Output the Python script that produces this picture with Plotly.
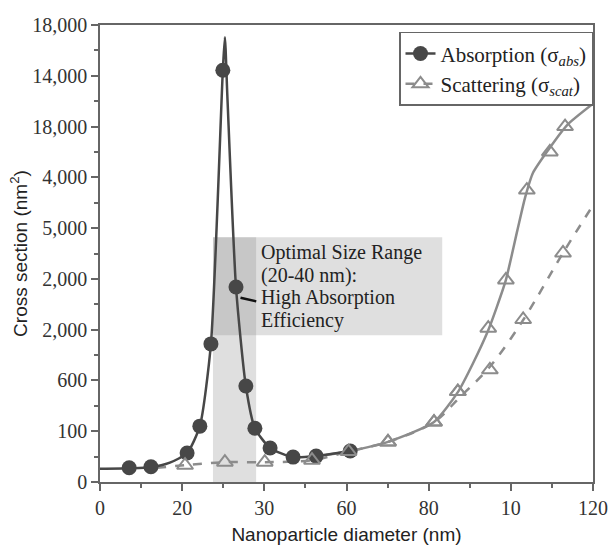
import plotly.graph_objects as go

# ---- data (x in nm, y in evenly spaced tick-position units of the axis) ----
y_tick_pos = [0, 1, 2, 3, 4, 5, 6, 7, 8, 9]
y_tick_labels = ["0", "100", "600", "2,000", "2,000", "5,000", "4,000", "18,000", "14,000", "18,000"]
x_tick_pos = [0, 20, 40, 60, 80, 100, 120]
x_tick_labels = ["0", "20", "30", "60", "80", "10", "120"]

abs_x = [7.1, 12.4, 21.2, 24.3, 27.0, 29.9, 33.1, 35.5, 37.7, 41.4, 47.0, 52.6, 60.9]
abs_y = [0.28, 0.30, 0.57, 1.10, 2.72, 8.11, 3.84, 1.89, 1.06, 0.67, 0.49, 0.51, 0.61]
abs_curve_x = [0, 7.1, 12.4, 17.0, 21.2, 24.3, 27.0, 29.9, 30.4, 31.0, 33.1, 35.5, 37.7, 41.4, 47.0, 52.6, 60.9]
abs_curve_y = [0.26, 0.27, 0.29, 0.38, 0.57, 1.10, 2.72, 8.11, 8.76, 7.60, 3.84, 1.89, 1.06, 0.67, 0.49, 0.51, 0.61]

scat_x = [20.7, 30.4, 40.1, 51.6, 60.5, 70.1, 81.3, 87.1, 94.9, 103.0, 112.7]
scat_y = [0.33, 0.39, 0.39, 0.43, 0.60, 0.79, 1.18, 1.78, 2.21, 3.20, 4.51]
scat_curve_x = [13.9, 20.7, 30.4, 40.1, 51.6, 60.5, 70.1, 81.3, 87.6, 94.9, 103.0, 112.7, 120.0]
scat_curve_y = [0.28, 0.33, 0.39, 0.39, 0.43, 0.60, 0.79, 1.18, 1.67, 2.27, 3.19, 4.51, 5.45]

scat2_x = [70.1, 81.3, 87.1, 94.5, 98.8, 103.9, 109.5, 113.2]
scat2_y = [0.79, 1.18, 1.78, 3.03, 3.98, 5.75, 6.50, 7.00]
scat2_curve_x = [55.0, 60.9, 70.1, 81.3, 87.1, 90.8, 94.5, 96.6, 98.8, 101.6, 103.5, 105.4, 109.1, 113.7, 120.0]
scat2_curve_y = [0.53, 0.61, 0.79, 1.18, 1.77, 2.34, 2.99, 3.45, 3.98, 4.96, 5.61, 6.09, 6.54, 7.03, 7.45]

band_x = [27.5, 38.0]
box_x = [27.5, 83.3]
box_y = [2.89, 4.82]
note_lines = ["Optimal Size Range", "(20-40 nm):", "High Absorption", "Efficiency"]
note_y = [4.51, 4.07, 3.63, 3.19]

DARK = "#474747"
GRAY = "#8c8c8c"
SERIF = "Liberation Serif, Times New Roman, serif"
SANS = "Liberation Sans, Arial, sans-serif"

fig = go.Figure()

# gray solid scattering branch (no legend)
fig.add_trace(go.Scatter(x=scat2_curve_x, y=scat2_curve_y, mode="lines",
                         line=dict(color=GRAY, width=2.5, shape="spline", smoothing=0.6),
                         showlegend=False, hoverinfo="skip"))
fig.add_trace(go.Scatter(x=scat2_x, y=scat2_y, mode="markers",
                         marker=dict(symbol="triangle-up-open", size=14, color=GRAY, line=dict(width=2)),
                         showlegend=False))
# dashed scattering
fig.add_trace(go.Scatter(x=scat_curve_x, y=scat_curve_y, mode="lines",
                         line=dict(color=GRAY, width=2.5, dash="dash", shape="spline", smoothing=0.9),
                         showlegend=False, hoverinfo="skip"))
# absorption
fig.add_trace(go.Scatter(x=abs_curve_x, y=abs_curve_y, mode="lines",
                         line=dict(color=DARK, width=2.5, shape="spline", smoothing=0.6),
                         showlegend=False, hoverinfo="skip"))
fig.add_trace(go.Scatter(x=abs_x, y=abs_y, mode="markers",
                         marker=dict(symbol="circle", size=15, color=DARK),
                         showlegend=False))
fig.add_trace(go.Scatter(x=scat_x, y=scat_y, mode="markers",
                         marker=dict(symbol="triangle-up-open", size=14, color=GRAY, line=dict(width=2)),
                         showlegend=False))
# legend entries
fig.add_trace(go.Scatter(x=[None], y=[None], mode="lines+markers",
                         name="Absorption (σ<sub><i>abs</i></sub>)",
                         line=dict(color=DARK, width=2.5),
                         marker=dict(symbol="circle", size=15, color=DARK)))
fig.add_trace(go.Scatter(x=[None], y=[None], mode="lines+markers",
                         name="Scattering (σ<sub><i>scat</i></sub>)",
                         line=dict(color=GRAY, width=2.5, dash="dash"),
                         marker=dict(symbol="triangle-up-open", size=14, color=GRAY, line=dict(width=2))))

# shaded band and note box
fig.add_shape(type="rect", xref="x", yref="y", x0=band_x[0], x1=band_x[1], y0=0, y1=box_y[1],
              fillcolor="rgba(128,128,128,0.25)", line=dict(width=0), layer="below")
fig.add_shape(type="rect", xref="x", yref="y", x0=box_x[0], x1=box_x[1], y0=box_y[0], y1=box_y[1],
              fillcolor="rgba(128,128,128,0.25)", line=dict(width=0), layer="below")

for txt, yy in zip(note_lines, note_y):
    fig.add_annotation(x=38.6, y=yy, xref="x", yref="y", text=txt, showarrow=False,
                       xanchor="left", yanchor="middle", font=dict(family=SERIF, size=20, color="#222"))
# pointer
fig.add_annotation(x=34.2, y=3.63, xref="x", yref="y", ax=38.4, ay=3.55, axref="x", ayref="y",
                   text="", showarrow=True, arrowhead=0, arrowwidth=2.5, arrowcolor="#111")

axis_common = dict(showline=True, linecolor="#666", linewidth=1.6, mirror=True,
                   ticks="outside", ticklen=7, tickwidth=1.5, tickcolor="#666",
                   showgrid=False, zeroline=False, automargin=False,
                   tickfont=dict(family=SERIF, size=20, color="#333"))

fig.update_xaxes(range=[0, 120], tickvals=x_tick_pos, ticktext=x_tick_labels,
                 minor=dict(ticks="outside", ticklen=4, tickwidth=1.5, tickcolor="#666", dtick=10, showgrid=False),
                 title=dict(text="Nanoparticle diameter (nm)", font=dict(family=SANS, size=19, color="#222"), standoff=10),
                 **axis_common)
fig.update_yaxes(range=[0, 9], tickvals=y_tick_pos, ticktext=y_tick_labels,
                 minor=dict(ticks="outside", ticklen=4, tickwidth=1.5, tickcolor="#666", dtick=0.5, showgrid=False),
                 title=dict(text="Cross section (nm<sup>2</sup>)", font=dict(family=SANS, size=19, color="#222"), standoff=0),
                 **axis_common)

fig.update_layout(width=609, height=546, margin=dict(l=100, r=16, t=25, b=64, autoexpand=False),
                  plot_bgcolor="white", paper_bgcolor="white",
                  legend=dict(x=1, y=0.985, xanchor="right", yanchor="top",
                              bgcolor="white", bordercolor="#666", borderwidth=1.5,
                              font=dict(family=SERIF, size=21, color="#222"),
                              tracegroupgap=0),
                  showlegend=True)

fig.write_html("out.html", config={"displayModeBar": False},
               post_script="document.body.style.margin='0';document.body.style.overflow='hidden';")
